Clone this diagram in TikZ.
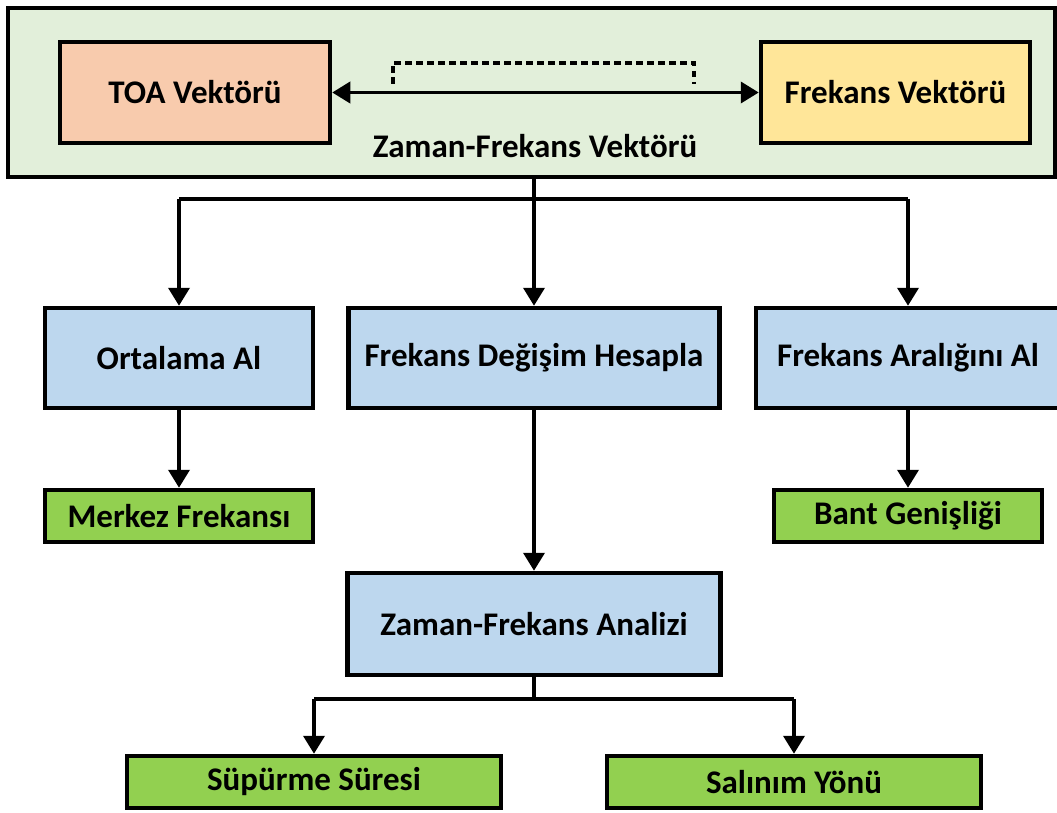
\documentclass[tikz,border=0pt]{standalone}
\usepackage{fontspec}
\setmainfont{Carlito}
\usetikzlibrary{arrows.meta}

\definecolor{framegreen}{HTML}{E2EFDA}
\definecolor{toafill}{HTML}{F8CBAD}
\definecolor{freqfill}{HTML}{FFE699}
\definecolor{stepblue}{HTML}{BDD7EE}
\definecolor{resultgreen}{HTML}{92D050}

\tikzset{
  labelfont/.style={font=\fontsize{33}{38}\selectfont\bfseries},
  box/.style={draw=black, line width=4.5pt, rectangle, align=center,
    inner sep=0pt, labelfont},
  procbox/.style={box, fill=stepblue, minimum height=100pt},
  outbox/.style={box, fill=resultgreen, minimum height=52pt},
  link/.style={line width=3.8pt, draw=black},
  arr/.style={link, -{Triangle[length=18pt,width=21pt]}},
  twoway/.style={link, {Triangle[length=18pt,width=21pt]}-{Triangle[length=18pt,width=21pt]}},
}

\begin{document}
\begin{tikzpicture}[x=1pt, y=-1pt]
  \useasboundingbox (0,0) rectangle (1057,813);

  % outer frame holding the two vectors
  \node[box, fill=framegreen, minimum width=1047pt, minimum height=169pt]
    (frame) at (531.5,92.5) {};
  \node[box, fill=toafill, minimum width=270pt, minimum height=101pt]
    (toa) at (195,92.5) {TOA Vektörü};
  \node[box, fill=freqfill, minimum width=269pt, minimum height=101pt]
    (fv) at (895.5,92.5) {Frekans Vektörü};
  \node[labelfont] (ztitle) at (535,146) {Zaman-Frekans Vektörü};

  % link between the two vectors
  \draw[twoway] (toa.east) -- (fv.west);
  \coordinate (dl) at (393,84);
  \coordinate (dr) at (694,84);
  \draw[line width=3.6pt, dash pattern=on 6.5pt off 4.5pt]
    (dl) -- ++(0,-21) -| (dr);

  % processing steps
  \node[procbox, minimum width=371pt] (degisim) at (534,358) {Frekans Değişim Hesapla};
  \node[procbox, minimum width=268pt] (ortalama) at (179,358) {Ortalama Al};
  \node[procbox, minimum width=304pt] (araligi) at (908,358) {Frekans Aralığını Al};
  \node[procbox, minimum width=373pt, minimum height=102pt] (analiz) at (534,624) {Zaman-Frekans Analizi};

  % results
  \node[outbox, minimum width=268pt] (merkez) at (179,516) {Merkez Frekansı};
  \node[outbox, minimum width=268pt] (bant) at (908,516) {Bant Genişliği};
  \node[outbox, minimum width=374pt] (supurme) at (314,782) {Süpürme Süresi};
  \node[outbox, minimum width=374pt] (salinim) at (794,782) {Salınım Yönü};

  % branching from the frame
  \coordinate (split1) at (534,199);
  \draw[link] (frame.south -| split1) -- (split1);
  \draw[link] (split1 -| ortalama.north) -- (split1 -| araligi.north);
  \draw[arr] (split1 -| ortalama.north) -- (ortalama.north);
  \draw[arr] (split1) -- (degisim.north);
  \draw[arr] (split1 -| araligi.north) -- (araligi.north);

  % step to result arrows
  \draw[arr] (ortalama.south) -- (merkez.north);
  \draw[arr] (araligi.south) -- (bant.north);
  \draw[arr] (degisim.south) -- (analiz.north);

  % branching from the analysis step
  \coordinate (split2) at (534,699);
  \draw[link] (analiz.south) -- (split2);
  \draw[link] (split2 -| supurme.north) -- (split2 -| salinim.north);
  \draw[arr] (split2 -| supurme.north) -- (supurme.north);
  \draw[arr] (split2 -| salinim.north) -- (salinim.north);
\end{tikzpicture}
\end{document}
